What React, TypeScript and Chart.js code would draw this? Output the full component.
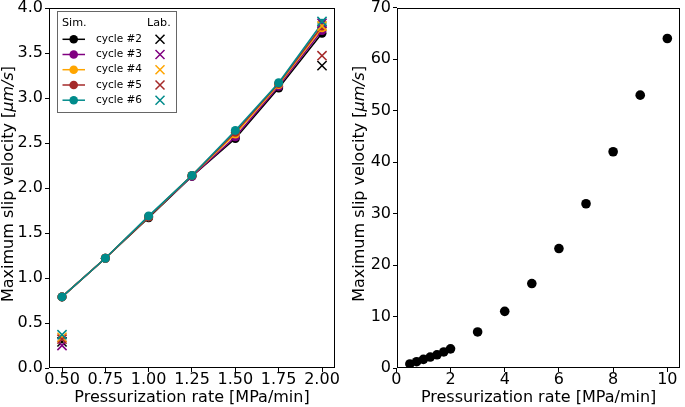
import React, { useEffect, useRef } from 'react';
import { Chart, registerables } from 'chart.js';

Chart.register(...registerables);

const FONT = "'DejaVu Sans', sans-serif";

// ---------- data ----------
const X_LEFT = [0.5, 0.75, 1.0, 1.25, 1.5, 1.75, 2.0];
const CYCLES = ['cycle #2', 'cycle #3', 'cycle #4', 'cycle #5', 'cycle #6'];
const COLORS = ['#000000', '#800080', '#FFA500', '#A52A2A', '#008B8B'];
const SIM_C2 = [0.79, 1.22, 1.67, 2.13, 2.55, 3.11, 3.72];
const SIM_C3 = [0.79, 1.22, 1.68, 2.13, 2.57, 3.13, 3.75];
const SIM_C4 = [0.79, 1.22, 1.68, 2.14, 2.6, 3.15, 3.78];
const SIM_C5 = [0.79, 1.22, 1.68, 2.14, 2.62, 3.16, 3.8];
const SIM_C6 = [0.79, 1.22, 1.69, 2.14, 2.64, 3.17, 3.83];
const LAB_X = [0.5, 2.0];
const LAB_C2 = [0.29, 3.36];
const LAB_C3 = [0.25, 3.83];
const LAB_C4 = [0.34, 3.8];
const LAB_C5 = [0.32, 3.47];
const LAB_C6 = [0.37, 3.85];
const SIMS = [SIM_C2, SIM_C3, SIM_C4, SIM_C5, SIM_C6];
const LABS = [LAB_C2, LAB_C3, LAB_C4, LAB_C5, LAB_C6];

const X_RIGHT = [0.5, 0.75, 1.0, 1.25, 1.5, 1.75, 2.0, 3, 4, 5, 6, 7, 8, 9, 10];
const V_RIGHT = [0.79, 1.22, 1.68, 2.13, 2.56, 3.12, 3.72, 7.0, 11.0, 16.4, 23.2, 31.9, 42.0, 53.0, 64.0];

const LEFT_XTICKS = [0.5, 0.75, 1.0, 1.25, 1.5, 1.75, 2.0];
const LEFT_YTICKS = [0, 0.5, 1.0, 1.5, 2.0, 2.5, 3.0, 3.5, 4.0];
const RIGHT_XTICKS = [0, 2, 4, 6, 8, 10];
const RIGHT_YTICKS = [0, 10, 20, 30, 40, 50, 60, 70];

const X_TITLE = 'Pressurization rate [MPa/min]';
const Y_TITLE_PRE = 'Maximum slip velocity [';
const Y_TITLE_IT = 'μm/s';
const Y_TITLE_POST = ']';

// ---------- helpers ----------
function frameAndTitles(yTitleX: number) {
  return {
    id: 'frameTitles',
    afterDraw(chart: any) {
      const { ctx, chartArea } = chart;
      const { left, right, top, bottom } = chartArea;
      ctx.save();
      ctx.strokeStyle = '#000';
      ctx.lineWidth = 1;
      const l = Math.round(left) + 0.5;
      const t = Math.round(top) + 0.5;
      const r = Math.round(right) - 0.5;
      const b = Math.round(bottom) - 0.5;
      ctx.strokeRect(l, t, r - l, b - t);
      // x title
      ctx.fillStyle = '#000';
      ctx.font = `16px ${FONT}`;
      ctx.textAlign = 'center';
      ctx.textBaseline = 'middle';
      ctx.fillText(X_TITLE, (left + right) / 2, 398);
      // y title (rotated, with italic unit)
      const cy = (top + bottom) / 2 - 4;
      ctx.translate(yTitleX, cy);
      ctx.rotate(-Math.PI / 2);
      const parts = [
        { t: Y_TITLE_PRE, f: `16px ${FONT}` },
        { t: Y_TITLE_IT, f: `italic 16px ${FONT}` },
        { t: Y_TITLE_POST, f: `16px ${FONT}` },
      ];
      let total = 0;
      const widths = parts.map((p) => {
        ctx.font = p.f;
        const w = ctx.measureText(p.t).width;
        total += w;
        return w;
      });
      let x = -total / 2;
      ctx.textAlign = 'left';
      parts.forEach((p, i) => {
        ctx.font = p.f;
        ctx.fillText(p.t, x, 0);
        x += widths[i];
      });
      ctx.restore();
    },
  };
}

const legendPlugin = {
  id: 'customLegend',
  afterDraw(chart: any) {
    const ctx = chart.ctx;
    ctx.save();
    ctx.fillStyle = '#fff';
    ctx.fillRect(57, 11, 119, 101);
    ctx.strokeStyle = '#666';
    ctx.lineWidth = 1;
    ctx.strokeRect(57.5, 11.5, 119, 101);
    ctx.fillStyle = '#000';
    ctx.font = `11.2px ${FONT}`;
    ctx.textBaseline = 'middle';
    ctx.textAlign = 'left';
    ctx.fillText('Sim.', 62, 23);
    ctx.fillText('Lab.', 147, 23);
    ctx.font = `10.5px ${FONT}`;
    const rows = [39.3, 54.5, 69.7, 85, 100.2];
    CYCLES.forEach((c, i) => {
      const y = rows[i];
      const col = COLORS[i];
      ctx.strokeStyle = col;
      ctx.fillStyle = col;
      ctx.lineWidth = 1.5;
      ctx.beginPath();
      ctx.moveTo(62.5, y);
      ctx.lineTo(85, y);
      ctx.stroke();
      ctx.beginPath();
      ctx.arc(73.7, y, 4.3, 0, Math.PI * 2);
      ctx.fill();
      ctx.fillStyle = '#000';
      ctx.fillText(c, 96, y);
      const s = 4.5;
      ctx.beginPath();
      ctx.moveTo(160 - s, y - s);
      ctx.lineTo(160 + s, y + s);
      ctx.moveTo(160 - s, y + s);
      ctx.lineTo(160 + s, y - s);
      ctx.stroke();
    });
    ctx.restore();
  },
};

function axis(min: number, max: number, ticks: number[], fmt: (v: number) => string, isY: boolean, size: number) {
  return {
    type: 'linear',
    min,
    max,
    afterBuildTicks: (scale: any) => {
      scale.ticks = ticks.map((v) => ({ value: v }));
    },
    afterFit: (scale: any) => {
      if (isY) scale.width = size;
      else scale.height = size;
    },
    grid: {
      display: true,
      drawOnChartArea: false,
      drawTicks: true,
      tickLength: 4,
      tickColor: '#000',
      tickWidth: 1,
      color: '#000',
    },
    border: { display: false },
    ticks: {
      color: '#000',
      padding: isY ? 2 : 0,
      maxRotation: 0,
      autoSkip: false,
      font: { family: FONT, size: 16, lineHeight: isY ? 0.7 : 1.0 },
      callback: (v: any) => fmt(Number(v)),
    },
  };
}

export default function App() {
  const leftRef = useRef<HTMLCanvasElement>(null);
  const rightRef = useRef<HTMLCanvasElement>(null);

  useEffect(() => {
    const simSets = CYCLES.map((c, i) => ({
      label: c,
      data: X_LEFT.map((x, j) => ({ x, y: SIMS[i][j] })),
      showLine: true,
      borderColor: COLORS[i],
      backgroundColor: COLORS[i],
      borderWidth: 1.5,
      pointRadius: 4.5,
      pointBorderWidth: 0,
      pointBorderColor: COLORS[i],
      pointBackgroundColor: COLORS[i],
      pointStyle: 'circle',
      tension: 0,
      order: 10 + (4 - i),
    }));
    const labSets = CYCLES.map((c, i) => ({
      label: c + ' lab',
      data: LAB_X.map((x, j) => ({ x, y: LABS[i][j] })),
      showLine: false,
      borderColor: COLORS[i],
      backgroundColor: COLORS[i],
      pointStyle: 'crossRot',
      pointRadius: 6.5,
      pointBorderWidth: 1.5,
      pointBorderColor: COLORS[i],
      order: 4 - i,
    }));

    const left = new Chart(leftRef.current as HTMLCanvasElement, {
      type: 'scatter',
      data: { datasets: [...simSets, ...labSets] as any },
      options: {
        animation: false,
        responsive: false,
        devicePixelRatio: 1,
        layout: { padding: { top: 6, right: 7, bottom: 0, left: 0 } },
        plugins: { legend: { display: false }, tooltip: { enabled: false } },
        scales: {
          x: axis(0.425, 2.075, LEFT_XTICKS, (v) => v.toFixed(2), false, 39) as any,
          y: axis(0, 4, LEFT_YTICKS, (v) => v.toFixed(1), true, 49) as any,
        },
      },
      plugins: [frameAndTitles(9), legendPlugin],
    });

    const right = new Chart(rightRef.current as HTMLCanvasElement, {
      type: 'scatter',
      data: {
        datasets: [
          {
            label: 'max slip velocity',
            data: X_RIGHT.map((x, j) => ({ x, y: V_RIGHT[j] })),
            showLine: false,
            backgroundColor: '#000',
            borderColor: '#000',
            pointRadius: 4.8,
            pointBorderWidth: 0,
            pointStyle: 'circle',
          },
        ] as any,
      },
      options: {
        animation: false,
        responsive: false,
        devicePixelRatio: 1,
        layout: { padding: { top: 6, right: 1, bottom: 0, left: 0 } },
        plugins: { legend: { display: false }, tooltip: { enabled: false } },
        scales: {
          x: axis(0.025, 10.475, RIGHT_XTICKS, (v) => String(v), false, 39) as any,
          y: axis(0, 70, RIGHT_YTICKS, (v) => String(v), true, 54) as any,
        },
      },
      plugins: [frameAndTitles(17)],
    });

    return () => {
      left.destroy();
      right.destroy();
    };
  }, []);

  return (
    <div style={{ position: 'fixed', left: 0, top: 0, width: 685, height: 407, background: '#fff' }}>
      <canvas ref={leftRef} width={343} height={407} style={{ position: 'absolute', left: 0, top: 0 }} />
      <canvas ref={rightRef} width={342} height={407} style={{ position: 'absolute', left: 343, top: 0 }} />
    </div>
  );
}
